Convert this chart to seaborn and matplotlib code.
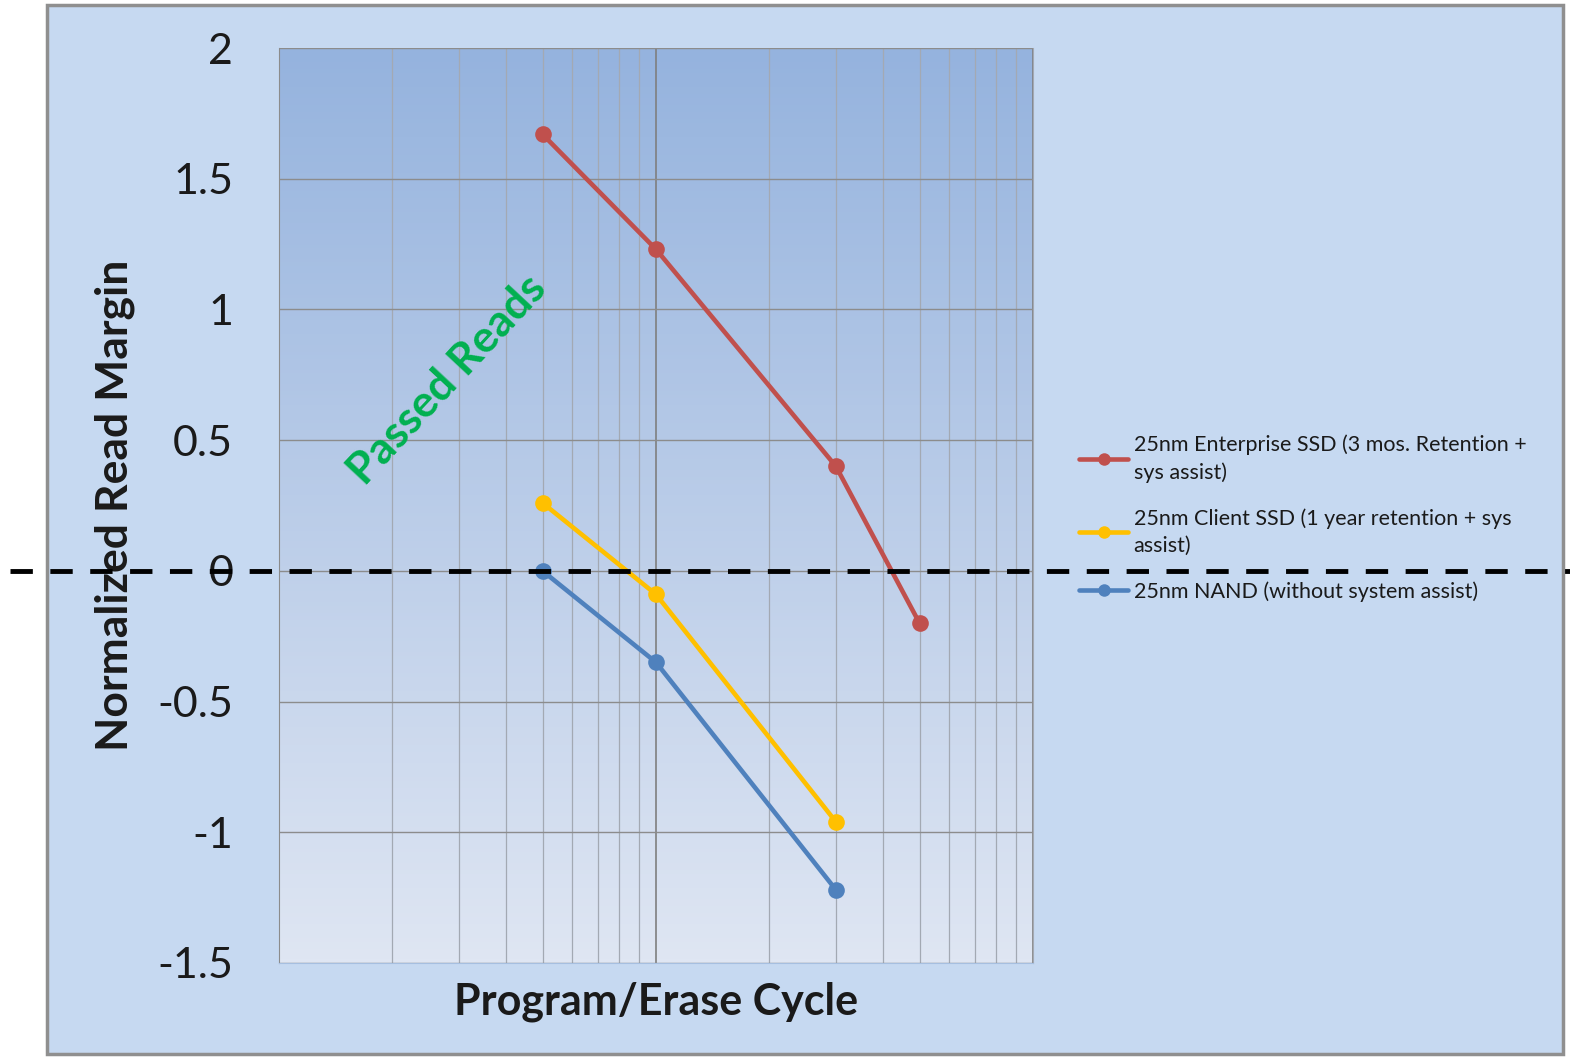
import numpy as np
import pandas as pd
import matplotlib
matplotlib.use("Agg")
import matplotlib.pyplot as plt
from matplotlib.ticker import LogLocator, NullFormatter, FixedLocator
from matplotlib.patches import Rectangle
from matplotlib.colors import LinearSegmentedColormap
import seaborn as sns

# ---- data ----
series_names = [
    "25nm Enterprise SSD (3 mos. Retention +\nsys assist)",
    "25nm Client SSD (1 year retention + sys\nassist)",
    "25nm NAND (without system assist)",
]
enterprise_x = [5000, 10000, 30000, 50000]
enterprise_y = [1.67, 1.23, 0.40, -0.20]
client_x = [5000, 10000, 30000]
client_y = [0.26, -0.09, -0.96]
nand_x = [5000, 10000, 30000]
nand_y = [0.00, -0.35, -1.22]
y_ticks = [-1.5, -1, -0.5, 0, 0.5, 1, 1.5, 2]
y_tick_labels = ["-1.5", "-1", "-0.5", "0", "0.5", "1", "1.5", "2"]
colors = ["#c0504d", "#ffc000", "#4f81bd"]

df = pd.concat([
    pd.DataFrame({"x": enterprise_x, "y": enterprise_y, "series": series_names[0]}),
    pd.DataFrame({"x": client_x, "y": client_y, "series": series_names[1]}),
    pd.DataFrame({"x": nand_x, "y": nand_y, "series": series_names[2]}),
])

sns.set_style("white")
plt.rcParams["font.family"] = ["Lato", "DejaVu Sans"]

W, H = 1570, 1061
fig = plt.figure(figsize=(W / 100, H / 100), dpi=100, facecolor="white")

# chart frame
fig.patches.append(Rectangle((47 / W, 1 - 1054 / H), (1563 - 47) / W, (1054 - 5) / H,
                             transform=fig.transFigure, facecolor="#c6d9f1",
                             edgecolor="#8f8f8f", linewidth=2.5, zorder=-10))

ax = fig.add_axes([279 / W, 1 - 963 / H, (1033 - 279) / W, (963 - 48) / H])
ax.set_facecolor("none")

# gradient background of plot area
grad = np.linspace(0, 1, 256).reshape(-1, 1)
cmap = LinearSegmentedColormap.from_list("g", ["#dfe6f3", "#95b3de"])
ax.imshow(grad, extent=[0, 1, 0, 1], transform=ax.transAxes, cmap=cmap,
          origin="lower", aspect="auto", zorder=0)

sns.lineplot(data=df, x="x", y="y", hue="series", palette=colors, marker="o",
             markersize=12, markeredgewidth=0, linewidth=3.3, ax=ax, zorder=3,
             hue_order=series_names)

ax.set_xscale("log")
ax.set_xlim(1000, 100000)
ax.set_ylim(-1.5, 2)
ax.yaxis.set_major_locator(FixedLocator(y_ticks))
ax.set_yticklabels(y_tick_labels)
ax.xaxis.set_minor_locator(LogLocator(base=10, subs=np.arange(2, 10)))
ax.xaxis.set_minor_formatter(NullFormatter())
ax.set_xticklabels([])
ax.tick_params(axis="x", which="both", length=0)
ax.tick_params(axis="y", length=10, width=1, color="#8c8c8c", labelsize=31,
               labelcolor="#1a1a1a", pad=23)
ax.grid(True, axis="y", color="#8c8c8c", linewidth=1, zorder=1)
ax.grid(True, axis="x", which="major", color="#7f7f7f", linewidth=1.2, zorder=1)
ax.grid(True, axis="x", which="minor", color="#a3a9b3", linewidth=0.9, zorder=1)
ax.set_axisbelow(True)
ax.spines["top"].set_visible(False)
ax.spines["left"].set_color("#8c8c8c")
ax.spines["right"].set_color("#a3a9b3")
ax.spines["bottom"].set_color("#a6bfe0")

ax.set_xlabel("Program/Erase Cycle", fontsize=31, fontweight="bold", labelpad=10,
              color="#1a1a1a")
ax.set_ylabel("Normalized Read Margin", fontsize=32, fontweight="bold", labelpad=16,
              color="#1a1a1a")

fig.text(447 / W, 1 - 380 / H, "Passed Reads", color="#00b050", fontsize=32,
         fontweight="bold", rotation=47, ha="center", va="center")

# zero dashed line across the whole chart
ax.axhline(0, xmin=(10 - 279) / 754, xmax=(1570 - 279) / 754, color="black",
           linewidth=3.5, linestyle=(0, (4.6, 3.6)), clip_on=False, zorder=10)

handles, labels = ax.get_legend_handles_labels()
ax.get_legend().remove()
for h in handles:
    h.set_markersize(9)
leg = fig.legend(handles, labels, loc="upper left", bbox_to_anchor=(1068 / W, 1 - 424 / H),
                 frameon=False, fontsize=15.5, handlelength=2.3, handletextpad=0.25,
                 labelspacing=1.2, borderpad=0)
for t in leg.get_texts():
    t.set_linespacing(1.4)
    t.set_color("#1a1a1a")

fig.savefig("out.png", dpi=100, facecolor="white")
